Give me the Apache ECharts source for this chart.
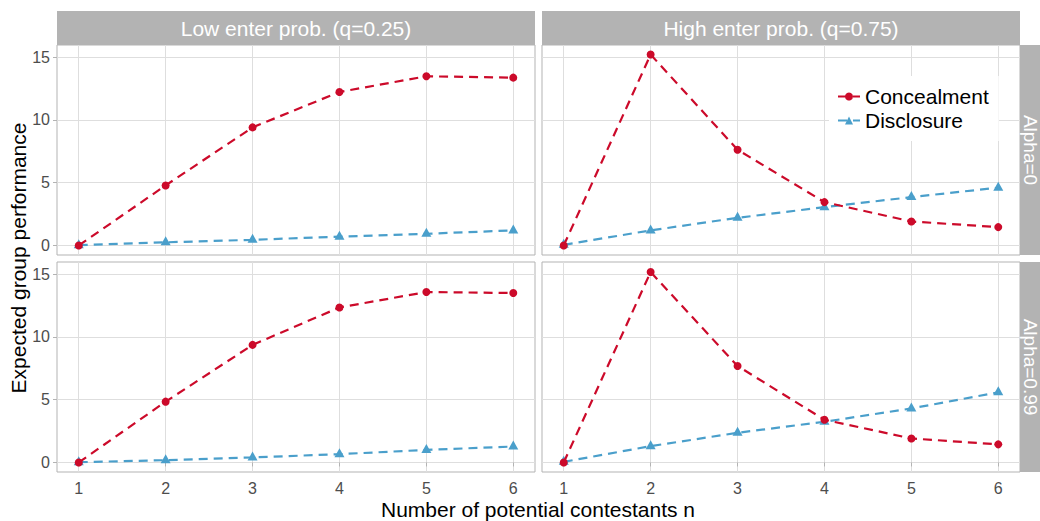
<!DOCTYPE html>
<html>
<head>
<meta charset="utf-8">
<script src="https://cdn.jsdelivr.net/npm/echarts@6/dist/echarts.min.js"></script>
<style>
html,body{margin:0;padding:0;background:#fff;}
#chart{width:1040px;height:521px;}
</style>
</head>
<body>
<div id="chart"></div>
<script>
// ---- data ----
var nValues = [1, 2, 3, 4, 5, 6];
var xTicks = [1, 2, 3, 4, 5, 6];
var yTicks = [0, 5, 10, 15];
var colLabels = ['Low enter prob. (q=0.25)', 'High enter prob. (q=0.75)'];
var rowLabels = ['Alpha=0', 'Alpha=0.99'];
var seriesNames = ['Concealment', 'Disclosure'];

// Alpha=0, q=0.25
var concealLowA0 = [0, 4.78, 9.40, 12.22, 13.47, 13.36];
var discloseLowA0 = [0.02, 0.25, 0.45, 0.70, 0.93, 1.20];
// Alpha=0, q=0.75
var concealHighA0 = [0, 15.20, 7.62, 3.45, 1.91, 1.46];
var discloseHighA0 = [0.05, 1.20, 2.20, 3.05, 3.85, 4.60];
// Alpha=0.99, q=0.25
var concealLowA99 = [0, 4.84, 9.36, 12.34, 13.57, 13.49];
var discloseLowA99 = [0.02, 0.18, 0.40, 0.66, 1.00, 1.27];
// Alpha=0.99, q=0.75
var concealHighA99 = [0, 15.16, 7.68, 3.40, 1.91, 1.44];
var discloseHighA99 = [0.05, 1.30, 2.36, 3.24, 4.30, 5.58];

// ---- layout / style ----
var FONT = '"Liberation Sans", Arial, sans-serif';
var RED = '#CC0A2A';
var BLUE = '#4A9FCB';
var STRIP = '#B3B3B3';
var GRIDC = '#DEDEDE';

var panels = [
  {left: 57, top: 45, width: 478, height: 210, row: 0, col: 0, c: concealLowA0, d: discloseLowA0},
  {left: 542, top: 45, width: 478, height: 210, row: 0, col: 1, c: concealHighA0, d: discloseHighA0},
  {left: 57, top: 262, width: 478, height: 210, row: 1, col: 0, c: concealLowA99, d: discloseLowA99},
  {left: 542, top: 262, width: 478, height: 210, row: 1, col: 1, c: concealHighA99, d: discloseHighA99}
];

function pairs(vals) { return nValues.map(function (n, i) { return [n, vals[i]]; }); }

var grids = [], xAxes = [], yAxes = [], series = [];
panels.forEach(function (p, i) {
  grids.push({left: p.left, top: p.top, width: p.width, height: p.height,
    show: true, borderColor: STRIP, borderWidth: 1, backgroundColor: 'transparent', containLabel: false});
  var showX = p.row === 1, showY = p.col === 0;
  xAxes.push({
    type: 'value', gridIndex: i, min: 0.75, max: 6.25,
    axisLine: {show: false},
    axisTick: {show: showX, length: 4, lineStyle: {color: STRIP}, customValues: xTicks},
    axisLabel: {show: showX, customValues: xTicks, margin: 8, color: '#4D4D4D', fontSize: 16, fontFamily: FONT},
    splitLine: {show: true, lineStyle: {color: GRIDC, width: 1}}
  });
  yAxes.push({
    type: 'value', gridIndex: i, min: -0.76, max: 15.96,
    axisLine: {show: false},
    axisTick: {show: showY, length: 4, lineStyle: {color: STRIP}, customValues: yTicks},
    axisLabel: {show: showY, customValues: yTicks, margin: 7, color: '#4D4D4D', fontSize: 16, fontFamily: FONT},
    splitLine: {show: true, lineStyle: {color: GRIDC, width: 1}}
  });
  series.push({
    name: seriesNames[0], type: 'line', xAxisIndex: i, yAxisIndex: i, data: pairs(p.c),
    symbol: 'circle', symbolSize: 8, itemStyle: {color: RED},
    lineStyle: {color: RED, width: 2.2, type: [9, 6]}, z: 3
  });
  series.push({
    name: seriesNames[1], type: 'line', xAxisIndex: i, yAxisIndex: i, data: pairs(p.d),
    symbol: 'triangle', symbolSize: [10, 9], symbolOffset: [0, -1.5], itemStyle: {color: BLUE},
    lineStyle: {color: BLUE, width: 2.2, type: [9, 6]}, z: 2
  });
});

var graphics = [];
// top strips
[0, 1].forEach(function (c) {
  var p = panels[c];
  graphics.push({type: 'rect', shape: {x: p.left, y: 11, width: p.width, height: 34}, style: {fill: STRIP}, z: 10});
  graphics.push({type: 'text', x: p.left + p.width / 2, y: 28, z: 11,
    style: {text: colLabels[c], fill: '#FFFFFF', fontSize: 21, fontFamily: FONT, textAlign: 'center', textVerticalAlign: 'middle'}});
});
// right strips
[0, 1].forEach(function (r) {
  var p = panels[r * 2 + 1];
  graphics.push({type: 'rect', shape: {x: 1020, y: p.top, width: 24, height: p.height}, style: {fill: STRIP}, z: 10});
  graphics.push({type: 'text', x: 1030, y: p.top + p.height / 2, rotation: -Math.PI / 2, z: 11,
    style: {text: rowLabels[r], fill: '#FFFFFF', fontSize: 19, fontFamily: FONT, textAlign: 'center', textVerticalAlign: 'middle'}});
});
// axis titles
graphics.push({type: 'text', x: 18, y: 258, rotation: Math.PI / 2, z: 11,
  style: {text: 'Expected group performance', fill: '#000000', fontSize: 21, fontFamily: FONT, textAlign: 'center', textVerticalAlign: 'middle'}});
graphics.push({type: 'text', x: 538, y: 509, z: 11,
  style: {text: 'Number of potential contestants n', fill: '#000000', fontSize: 21, fontFamily: FONT, textAlign: 'center', textVerticalAlign: 'middle'}});

var chart = echarts.init(document.getElementById('chart'), null, {renderer: 'svg'});
chart.setOption({
  animation: false,
  backgroundColor: '#ffffff',
  grid: grids,
  xAxis: xAxes,
  yAxis: yAxes,
  series: series,
  legend: {
    data: seriesNames, orient: 'vertical', left: 829, top: 76,
    backgroundColor: '#ffffff', padding: [10, 10, 10, 8], itemGap: 3,
    itemWidth: 22, itemHeight: 10,
    textStyle: {fontSize: 21, color: '#000000', fontFamily: FONT}
  },
  graphic: graphics
});
</script>
</body>
</html>
